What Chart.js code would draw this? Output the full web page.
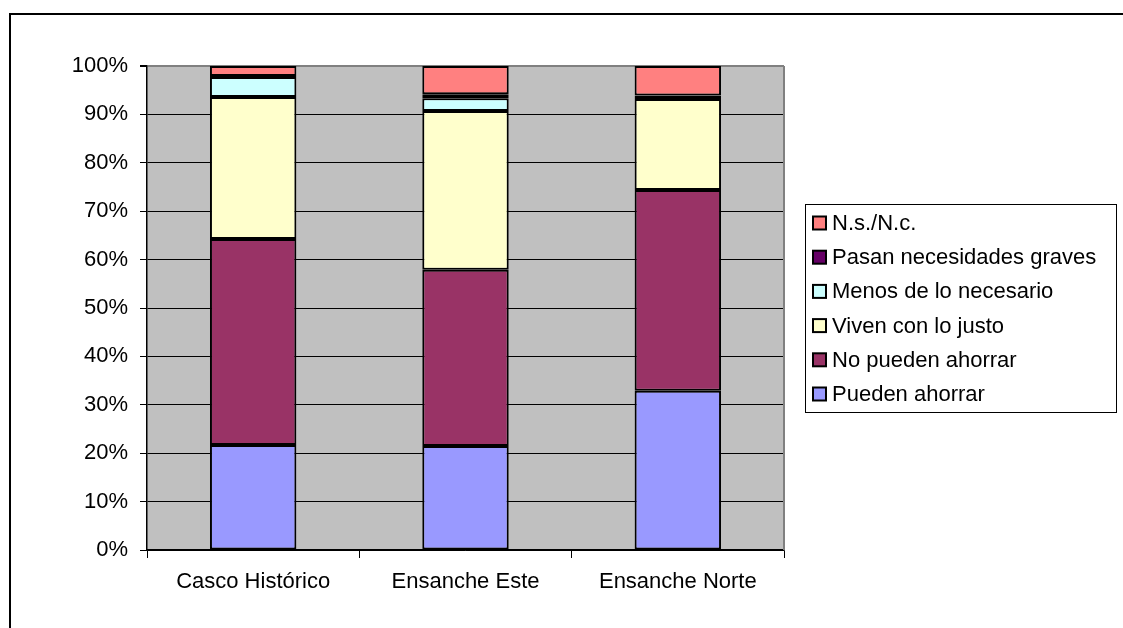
<!DOCTYPE html>
<html>
<head>
<meta charset="utf-8">
<script src="https://cdn.jsdelivr.net/npm/chart.js@4"></script>
<style>
  html, body { margin: 0; padding: 0; background: #fff; }
  #wrap { position: absolute; left: 0; top: 0; width: 1123px; height: 628px; }
</style>
</head>
<body>
<div id="wrap"><canvas id="chart" width="1123" height="628"></canvas></div>
<script>
  // data (percent of each zone)
  const categories = ['Casco Histórico', 'Ensanche Este', 'Ensanche Norte'];
  const puedenAhorrar = [21.7, 21.5, 32.9];
  const noPuedenAhorrar = [42.55, 36.4, 41.5];
  const vivenJusto = [29.35, 32.8, 18.8];
  const menosNecesario = [4.15, 2.65, 0.4];
  const pasanNecesidades = [0.2, 0.8, 0.3];
  const nsNc = [2.05, 5.85, 6.1];
  const yTickStep = 10;

  const FONT = 'Arial, "Liberation Sans", sans-serif';

  // frame, grey plot area and the boxed legend on the right
  const excelLook = {
    id: 'excelLook',
    beforeDraw(chart) {
      const { ctx, chartArea: a } = chart;
      ctx.save();
      ctx.fillStyle = '#fff';
      ctx.fillRect(0, 0, chart.width, chart.height);
      ctx.fillStyle = '#000';
      ctx.fillRect(9, 13, 2, chart.height - 13);
      ctx.fillRect(9, 13, chart.width - 9, 2);
      ctx.fillStyle = '#c0c0c0';
      ctx.fillRect(a.left, a.top, a.right - a.left, a.bottom - a.top);
      ctx.restore();
    },
    afterDraw(chart) {
      const { ctx, chartArea: a } = chart;
      ctx.save();
      ctx.strokeStyle = '#808080';
      ctx.lineWidth = 2;
      ctx.beginPath();
      ctx.moveTo(a.right, a.top);
      ctx.lineTo(a.right, a.bottom);
      ctx.stroke();

      // legend
      const box = { x: 805.5, y: 204.5, w: 311, h: 208 };
      ctx.fillStyle = '#fff';
      ctx.fillRect(box.x, box.y, box.w, box.h);
      ctx.strokeStyle = '#000';
      ctx.lineWidth = 1;
      ctx.strokeRect(box.x, box.y, box.w, box.h);
      const ds = chart.data.datasets.slice().reverse();
      ctx.font = '22px ' + FONT;
      ctx.textBaseline = 'middle';
      ds.forEach((d, i) => {
        const cy = 223 + i * 34.2;
        ctx.fillStyle = d.backgroundColor;
        ctx.fillRect(813, cy - 6.5, 13, 13);
        ctx.lineWidth = 2;
        ctx.strokeStyle = '#000';
        ctx.strokeRect(813, cy - 6.5, 13, 13);
        ctx.fillStyle = '#000';
        ctx.fillText(d.label, 832, cy + 1);
      });
      ctx.restore();
    }
  };

  function series(label, data, color) {
    return {
      label: label,
      data: data,
      backgroundColor: color,
      borderColor: '#000',
      borderWidth: 2,
      borderSkipped: false,
      categoryPercentage: 1,
      barPercentage: 0.407
    };
  }

  new Chart(document.getElementById('chart'), {
    type: 'bar',
    data: {
      labels: categories,
      datasets: [
        series('Pueden ahorrar', puedenAhorrar, '#9999ff'),
        series('No pueden ahorrar', noPuedenAhorrar, '#993366'),
        series('Viven con lo justo', vivenJusto, '#ffffcc'),
        series('Menos de lo necesario', menosNecesario, '#ccffff'),
        series('Pasan necesidades graves', pasanNecesidades, '#660066'),
        series('N.s./N.c.', nsNc, '#ff8080')
      ]
    },
    options: {
      responsive: false,
      animation: false,
      layout: { padding: { top: 66, right: 339, bottom: 0, left: 0 } },
      plugins: {
        legend: { display: false },
        tooltip: { enabled: false }
      },
      scales: {
        x: {
          stacked: true,
          afterFit: (s) => { s.height = 78; },
          grid: { offset: true, drawOnChartArea: false, tickLength: 8, color: '#000', lineWidth: 1 },
          border: { color: '#000', width: 1.5 },
          ticks: { color: '#000', font: { family: FONT, size: 22 }, padding: 11 }
        },
        y: {
          stacked: true,
          min: 0,
          max: 100,
          afterFit: (s) => { s.width = 147; },
          grid: {
            color: (c) => (c.tick && c.tick.value === 100 ? '#808080' : '#000'),
            lineWidth: (c) => (c.tick && c.tick.value === 100 ? 2 : 1),
            tickLength: 7,
            tickColor: '#000'
          },
          border: { color: '#000', width: 1.5 },
          ticks: {
            stepSize: yTickStep,
            color: '#000',
            padding: 12,
            font: { family: FONT, size: 22 },
            callback: (v) => v + '%'
          }
        }
      }
    },
    plugins: [excelLook]
  });
</script>
</body>
</html>
